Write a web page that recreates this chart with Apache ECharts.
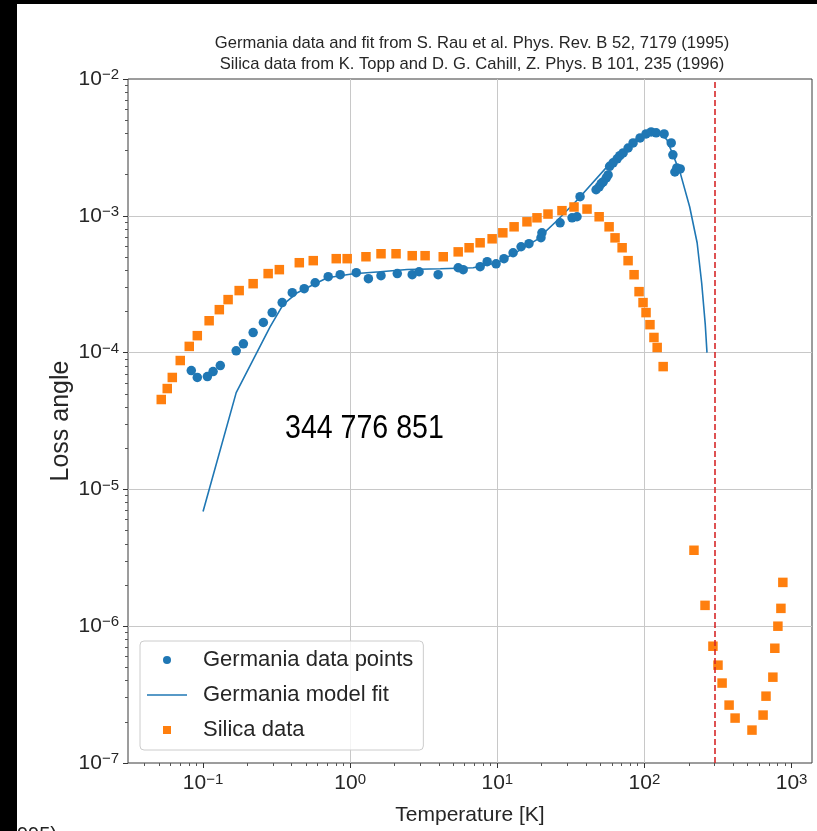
<!DOCTYPE html>
<html><head><meta charset="utf-8">
<script src="https://cdn.jsdelivr.net/npm/echarts@6/dist/echarts.min.js"></script>
<style>html,body{margin:0;padding:0;background:#fff}#c{width:817px;height:831px}</style>
</head><body><div id="c"></div>
<script>
const titleText = 'Germania data and fit from S. Rau et al. Phys. Rev. B 52, 7179 (1995)\nSilica data from K. Topp and D. G. Cahill, Z. Phys. B 101, 235 (1996)';
const xMajorTicks = [0.1, 1, 10, 100, 1000];
const yMajorTicks = [1e-7, 1e-6, 1e-5, 1e-4, 1e-3, 1e-2];
const minorMultipliers = [2, 3, 4, 5, 6, 7, 8, 9];
const xMinorDecades = [0.01, 0.1, 1, 10, 100];
const yMinorDecades = [1e-7, 1e-6, 1e-5, 1e-4, 1e-3];
const xRange = [0.0309, 1376];
const yRange = [1e-7, 1e-2];
const roomTemperature = 300;

const germaniaT = [0.0832,0.0914,0.107,0.117,0.131,0.168,0.188,0.219,0.257,0.295,0.345,0.404,0.487,0.578,0.709,0.855,1.10,1.33,1.62,2.09,2.64,2.94,3.96,5.42,5.86,7.64,8.53,9.81,11.1,12.8,14.5,16.4,19.8,20.1,26.7,32.2,34.8,36.5,46.9,49.2,50.8,52.4,55.0,56.6,58.0,61.2,65.2,68.0,71.6,77.4,83.7,93.4,102.5,111,120,136,152,156,161,166,175];
const germaniaLoss = [7.39e-5,6.58e-5,6.68e-5,7.27e-5,8.04e-5,1.03e-4,1.16e-4,1.40e-4,1.66e-4,1.96e-4,2.32e-4,2.74e-4,2.93e-4,3.24e-4,3.59e-4,3.71e-4,3.84e-4,3.47e-4,3.65e-4,3.78e-4,3.71e-4,3.90e-4,3.71e-4,4.17e-4,4.04e-4,4.25e-4,4.62e-4,4.46e-4,4.86e-4,5.37e-4,5.94e-4,6.25e-4,6.91e-4,7.51e-4,8.89e-4,9.67e-4,9.84e-4,1.38e-3,1.55e-3,1.63e-3,1.72e-3,1.77e-3,1.89e-3,1.99e-3,2.30e-3,2.44e-3,2.61e-3,2.75e-3,2.88e-3,3.13e-3,3.41e-3,3.71e-3,3.97e-3,4.10e-3,4.04e-3,3.97e-3,3.41e-3,2.79e-3,2.09e-3,2.24e-3,2.20e-3];

const fitT = [0.1,0.168,0.286,0.35,0.437,0.56,0.70,1.05,1.6,2.44,4.1,6.85,10,13.6,18.6,25.4,34.8,60,86,109,125,142,175,203,228,245,259,266];
const fitLoss = [6.9e-6,5.1e-5,1.55e-4,2.24e-4,2.74e-4,3.13e-4,3.52e-4,3.77e-4,3.9e-4,4.05e-4,4.1e-4,4.17e-4,4.54e-4,5.45e-4,6.7e-4,9.2e-4,1.3e-3,2.5e-3,3.6e-3,4.15e-3,4.1e-3,3.6e-3,2.06e-3,1.16e-3,6.35e-4,3.2e-4,1.6e-4,1.0e-4];

const silicaT = [0.052,0.0571,0.0618,0.070,0.0806,0.0914,0.110,0.129,0.148,0.176,0.219,0.277,0.330,0.451,0.561,0.804,0.954,1.28,1.62,2.05,2.64,3.23,4.29,5.42,6.43,7.64,9.22,10.9,13.0,15.9,18.6,22.1,27.5,33.2,40.7,49.2,57.5,63.1,70.5,77.4,85.0,91.9,97.8,102.5,109,116,122,134,217,258,292,316,337,376,413,538,640,670,746,769,807,846,872];
const silicaLoss = [4.54e-5,5.46e-5,6.58e-5,8.75e-5,1.11e-4,1.33e-4,1.71e-4,2.06e-4,2.44e-4,2.84e-4,3.19e-4,3.78e-4,4.04e-4,4.54e-4,4.70e-4,4.86e-4,4.86e-4,5.02e-4,5.28e-4,5.28e-4,5.11e-4,5.11e-4,5.02e-4,5.45e-4,5.84e-4,6.35e-4,6.79e-4,7.51e-4,8.31e-4,9.04e-4,9.67e-4,1.03e-3,1.09e-3,1.16e-3,1.12e-3,9.84e-4,8.31e-4,6.9e-4,5.84e-4,4.70e-4,3.71e-4,2.79e-4,2.32e-4,1.96e-4,1.60e-4,1.29e-4,1.09e-4,7.9e-5,3.59e-6,1.42e-6,7.14e-7,5.19e-7,3.84e-7,2.65e-7,2.13e-7,1.74e-7,2.24e-7,3.08e-7,4.24e-7,6.9e-7,1.0e-6,1.35e-6,2.09e-6];

const overlayText = '344 776 851';
const cornerText = '995)';

const zip = (a, b) => a.map((v, i) => [v, b[i]]);
const minorOf = (decades, lo, hi) => {
  const out = [];
  decades.forEach(d => minorMultipliers.forEach(m => { const v = +(d * m).toPrecision(3); if (v > lo && v < hi) out.push(v); }));
  return out;
};
const xMinor = minorOf(xMinorDecades, xRange[0], xRange[1]);
const yMinor = minorOf(yMinorDecades, yRange[0], yRange[1]);

const FONT = 'Liberation Sans';
const TXT = '#262626';
const expLabel = v => {
  const e = Math.round(Math.log10(v));
  return '{b|10}{s|' + (e < 0 ? '\u2212' + (-e) : String(e)) + '}';
};
const richLbl = {
  b: { fontFamily: FONT, fontSize: 21, color: TXT, lineHeight: 23 },
  s: { fontFamily: FONT, fontSize: 15, color: TXT, verticalAlign: 'top', lineHeight: 15 }
};

const chart = echarts.init(document.getElementById('c'), null, { renderer: 'canvas' });
chart.setOption({
  animation: false,
  backgroundColor: '#ffffff',
  title: {
    text: titleText, left: 467, top: 28, textAlign: 'center',
    textStyle: { fontFamily: FONT, fontSize: 16.6, fontWeight: 'normal', color: TXT, lineHeight: 21 }
  },
  grid: { left: 128, right: 5, top: 79, bottom: 67, show: true, borderColor: '#3a3a3a', borderWidth: 1, backgroundColor: 'transparent' },
  legend: {
    orient: 'vertical', left: 140, top: 641,
    itemWidth: 40, itemHeight: 8, itemGap: 11,
    padding: [7, 10, 8, 7],
    backgroundColor: 'rgba(255,255,255,0.8)', borderColor: '#cccccc', borderWidth: 1, borderRadius: 4,
    textStyle: { fontFamily: FONT, fontSize: 22, color: TXT, lineHeight: 24, padding: [0, 0, 0, 11] },
    data: [
      { name: 'Germania data points', icon: 'circle' },
      { name: 'Germania model fit', icon: 'path://M0,0h40v1.6h-40z' },
      { name: 'Silica data', icon: 'path://M0,0h10v10h-10z' }
    ]
  },
  xAxis: [{
    type: 'log', logBase: 10, min: xRange[0], max: xRange[1], position: 'bottom',
    name: 'Temperature [K]', nameLocation: 'middle', nameGap: 42,
    nameTextStyle: { fontFamily: FONT, fontSize: 21, color: TXT },
    axisLine: { show: false },
    axisTick: { show: true, length: 5, customValues: xMajorTicks, lineStyle: { color: '#333' } },
    axisLabel: { customValues: xMajorTicks, margin: 9, formatter: expLabel, rich: richLbl },
    splitLine: { show: true, showMinLine: false, showMaxLine: false, lineStyle: { color: '#c8c8c8', width: 1 } }
  }, {
    type: 'log', logBase: 10, min: xRange[0], max: xRange[1], position: 'bottom',
    axisLine: { show: false }, axisLabel: { show: false }, splitLine: { show: false },
    axisTick: { show: true, length: 3, customValues: xMinor, lineStyle: { color: '#555' } }
  }],
  yAxis: [{
    type: 'log', logBase: 10, min: yRange[0], max: yRange[1], position: 'left',
    name: 'Loss angle', nameLocation: 'middle', nameGap: 54, nameRotate: 90, nameMoveOverlap: false,
    nameTextStyle: { fontFamily: FONT, fontSize: 25, color: TXT },
    axisLine: { show: false },
    axisTick: { show: true, length: 5, customValues: yMajorTicks, lineStyle: { color: '#333' } },
    axisLabel: { customValues: yMajorTicks, margin: 9, formatter: expLabel, rich: richLbl },
    splitLine: { show: true, showMinLine: false, showMaxLine: false, lineStyle: { color: '#c8c8c8', width: 1 } }
  }, {
    type: 'log', logBase: 10, min: yRange[0], max: yRange[1], position: 'left',
    axisLine: { show: false }, axisLabel: { show: false }, splitLine: { show: false },
    axisTick: { show: true, length: 3, customValues: yMinor, lineStyle: { color: '#555' } }
  }],
  series: [
    {
      name: 'Germania data points', type: 'scatter', data: zip(germaniaT, germaniaLoss),
      symbol: 'circle', symbolSize: 9.5, itemStyle: { color: '#1f77b4', opacity: 1 }, z: 3
    },
    {
      name: 'Germania model fit', type: 'line', data: zip(fitT, fitLoss),
      symbol: 'none', showSymbol: false, lineStyle: { color: '#1f77b4', width: 1.6 }, itemStyle: { color: '#1f77b4' }, z: 2,
      markLine: {
        silent: true, symbol: ['none', 'none'], animation: false,
        label: { show: false },
        lineStyle: { color: '#d62728', type: [6, 3], width: 1.6 },
        data: [{ xAxis: roomTemperature }]
      }
    },
    {
      name: 'Silica data', type: 'scatter', data: zip(silicaT, silicaLoss),
      symbol: 'rect', symbolSize: 9.5, itemStyle: { color: '#ff7f0e', opacity: 1 }, z: 4
    }
  ],
  graphic: [
    { type: 'rect', x: 0, y: 0, shape: { width: 17, height: 831 }, style: { fill: '#000' }, z: 100 },
    { type: 'rect', x: 0, y: 0, shape: { width: 817, height: 4 }, style: { fill: '#000' }, z: 100 },
    { type: 'text', x: 285, y: 412, scaleX: 0.84, z: 50,
      style: { text: overlayText, fontFamily: FONT, fontSize: 34, fill: '#000', verticalAlign: 'top', align: 'left' } },
    { type: 'text', x: 17, y: 825, z: 50,
      style: { text: cornerText, fontFamily: FONT, fontSize: 20, fill: '#222', verticalAlign: 'top', align: 'left' } }
  ]
});
</script></body></html>
